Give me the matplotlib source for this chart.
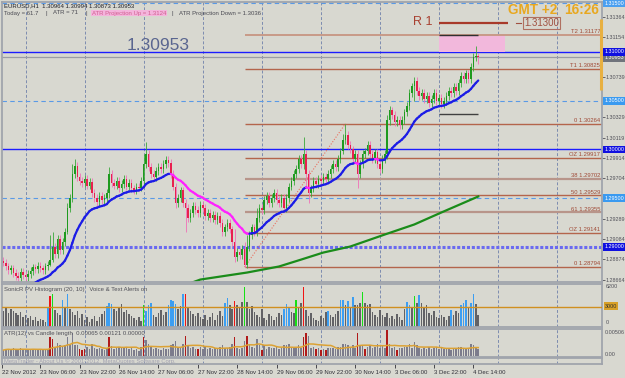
import numpy as np
import matplotlib
matplotlib.use("Agg")
import matplotlib.pyplot as plt
from matplotlib.collections import LineCollection
from matplotlib.patches import Rectangle
import matplotlib.transforms as mtrans

# ---------------- data ----------------
header_line = "EURUSD,H1  1.30964 1.30994 1.30873 1.30953"
info_parts = ["Today = 61.7", "|", "ATR = 71", "|", "ATR Projection Up = 1.3124", "|",
              "ATR Projection Down = 1.3036"]
bid_text = "1.30953"
first_open = 1.2886
closes = [
    1.2884, 1.2880, 1.2876, 1.2878, 1.2873, 1.2870, 1.2868, 1.2874, 1.2871, 1.2869,
    1.2872, 1.2875, 1.2879, 1.2877, 1.2881, 1.2878, 1.2876, 1.2880, 1.2882, 1.2887,
    1.2900, 1.2893, 1.2908, 1.2897, 1.2905, 1.2915, 1.2940, 1.2950, 1.2975, 1.2983,
    1.2972, 1.2968, 1.2966, 1.2970, 1.2963, 1.2967, 1.2955, 1.2950, 1.2946, 1.2952,
    1.2948, 1.2950, 1.2955, 1.2975, 1.2966, 1.2963, 1.2968, 1.2960, 1.2965, 1.2970,
    1.2962, 1.2966, 1.2960, 1.2958, 1.2962, 1.2961, 1.2968, 1.2985, 1.2995, 1.2982,
    1.2975, 1.2972, 1.2978, 1.2982, 1.2980, 1.2985, 1.2989, 1.2986, 1.2975, 1.2962,
    1.2945, 1.2950, 1.2958, 1.2945, 1.2940, 1.2930, 1.2935, 1.2942, 1.2938, 1.2935,
    1.2943, 1.2940, 1.2932, 1.2935, 1.2930, 1.2933, 1.2928, 1.2932, 1.2925, 1.2915,
    1.2920, 1.2925, 1.2918, 1.2905, 1.2890, 1.2895, 1.2892, 1.2898, 1.2882, 1.2900,
    1.2912, 1.2920, 1.2915, 1.2930, 1.2940, 1.2938, 1.2948, 1.2952, 1.2945, 1.2950,
    1.2955, 1.2948, 1.2945, 1.2950, 1.2940, 1.2950, 1.2962, 1.2968, 1.2975, 1.2980,
    1.2990, 1.2985, 1.2995, 1.2975, 1.2955, 1.2960, 1.2968, 1.2965, 1.2970, 1.2968,
    1.2972, 1.2970, 1.2975, 1.2980, 1.2985, 1.2982, 1.2990, 1.2998, 1.3010, 1.3015,
    1.3005, 1.3000, 1.2990, 1.2995, 1.2975, 1.2985, 1.2995, 1.2998, 1.3005, 1.2995,
    1.2990, 1.2997, 1.2985, 1.2980, 1.2990, 1.2995, 1.3030, 1.3040, 1.3035, 1.3028,
    1.3030, 1.3025, 1.3030, 1.3038, 1.3045, 1.3058, 1.3065, 1.3070, 1.3060, 1.3055,
    1.3058, 1.3052, 1.3055, 1.3048, 1.3052, 1.3058, 1.3050, 1.3053, 1.3047, 1.3050,
    1.3055, 1.3060, 1.3058, 1.3064, 1.3060, 1.3068, 1.3075, 1.3072, 1.3078, 1.3072,
    1.3085, 1.3095, 1.30964, 1.30953,
]
high_override = {19: 1.2912, 20: 1.2915, 26: 1.2945, 28: 1.2985, 29: 1.2990, 43: 1.2982,
                 57: 1.2995, 58: 1.3008, 94: 1.2918, 98: 1.2905, 99: 1.2912, 103: 1.2940,
                 122: 1.3013, 138: 1.3016, 139: 1.30264, 156: 1.3035, 157: 1.3045,
                 166: 1.3068, 167: 1.3074, 192: 1.31057, 193: 1.30994}
low_override = {19: 1.2880, 20: 1.2885, 26: 1.2913, 43: 1.2950, 57: 1.2962, 70: 1.2940,
                74: 1.2915, 94: 1.2885, 98: 1.28794, 122: 1.2980, 123: 1.2960, 124: 1.2945,
                138: 1.2995, 144: 1.2960, 156: 1.2990, 157: 1.3025, 167: 1.3050,
                193: 1.30873}
wick_size = 0.0004

ma_period = 20
ma_seed = 1.2830

sma_idx = [75, 80, 99, 112, 121, 130, 141, 155, 167, 178, 193]
sma_val = [1.2862, 1.28666, 1.28738, 1.28800, 1.28871, 1.28943, 1.29005, 1.29128,
           1.29231, 1.29354, 1.29518]

fib_names = ["T2", "T1", "0", "OZ", "38", "50", "61", "OZ", "0"]
fib_values = [1.31177, 1.30825, 1.30264, 1.29917, 1.29702, 1.29529, 1.29355, 1.29141, 1.28794]
swing_low_idx, swing_high_idx = 98, 139

round_levels = [1.31, 1.30, 1.29]
half_levels = [1.315, 1.305, 1.295]
bid = 1.30953
r1_level = 1.3130
day_start_idx = 177
proj_end_idx = 204
proj_box = (1.3100, 1.31177)
atr_down_level = 1.3036
today_range = (1.3061, 1.31338)

price_ticks = [1.31364, 1.31154, 1.30739, 1.30329, 1.30119, 1.29914, 1.29704,
               1.29289, 1.29084, 1.28874, 1.28664]

volumes = [
    2400, 2800, 2100, 2600, 2300, 2000, 1700, 2200, 1500, 1800,
    1300, 1600, 1100, 1400, 900, 1200, 1000, 800, 2800, 4500,
    4800, 2500, 2000, 1700, 3900, 3000, 4800, 2600, 2200, 1800,
    2400, 1300, 1900, 1100, 1500, 800, 1200, 1600, 900, 1400,
    1900, 2300, 3100, 3600, 3400, 2700, 2400, 2800, 3400, 2200,
    2500, 1900, 1600, 1300, 1100, 1500, 900, 3200, 2300, 3300,
    3500, 1800, 1400, 2100, 2500, 1700, 2200, 3300, 3900, 3800,
    3400, 2700, 3100, 4900, 4900, 2800, 2300, 1900, 1600, 2100,
    1500, 1200, 1800, 1000, 1400, 2000, 1100, 1700, 2400, 1600,
    3600, 4300, 3200, 2600, 3800, 3200, 2800, 3700, 5900, 3700,
    2600, 3100, 2200, 1800, 1500, 2600, 1300, 1100, 1900, 1600,
    1000, 1400, 2100, 1700, 2700, 3400, 2900, 2200, 2000, 3900,
    2800, 3600, 5900, 2500, 1600, 2000, 1300, 1100, 900, 1600,
    1300, 2200, 2300, 1700, 1400, 1900, 2300, 3900, 3900, 3300,
    3800, 3000, 4400, 3300, 3200, 3500, 5100, 3600, 3300, 3400,
    2200, 1800, 1500, 2500, 1700, 1400, 2000, 1300, 1600, 1200,
    1900, 1500, 1100, 2600, 3700, 3200, 2800, 4600, 3600, 4700,
    3500, 3000, 3300, 2000, 1700, 2300, 1500, 1300, 1800, 1400,
    1100, 1600, 2500, 1700, 2300, 2000, 3300, 3600, 4000, 2800,
    3500, 4800, 3400, 1800,
]
vol_classes = ("gggggggggg" "ggggggggbr" "Ggggbgbggg" "gggggggggg" "ggbbbggggg"
               "gggggggGbb" "bggggggbbb" "bggbrggggg" "gggggggggg" "bbggrgggGg"
               "gggggggggg" "ggggbbbggG" "ggrggggggg" "ggbggggbbg" "bgbgggGggg"
               "gggggggggg" "ggggbbgGgb" "gggggggggg" "ggbgggbbbg" "bbgg")
vol_level = 3000
vol_max = 6200

date_labels = ["22 Nov 2012", "23 Nov 06:00", "23 Nov 22:00", "26 Nov 14:00", "27 Nov 06:00",
               "27 Nov 22:00", "28 Nov 14:00", "29 Nov 06:00", "29 Nov 22:00", "30 Nov 14:00",
               "3 Dec 06:00", "3 Dec 22:00", "4 Dec 14:00"]
date_idx = [-0.6, 15, 31, 47, 63, 79, 95, 111, 127, 143, 159, 175, 191]
grid_idx = [9, 33, 57, 81, 105, 129, 153, 177, 201, 225]

# ---------------- derived ----------------
n = min(len(closes), len(volumes), len(vol_classes))
c = np.array(closes[:n])
o = np.r_[first_open, c[:-1]]
hi = np.maximum(o, c) + wick_size
lo = np.minimum(o, c) - wick_size
for k, v in high_override.items():
    if k < n:
        hi[k] = max(v, max(o[k], c[k]))
for k, v in low_override.items():
    if k < n:
        lo[k] = min(v, min(o[k], c[k]))
x = np.arange(n)

alpha = 2.0 / (ma_period + 1)
ma = np.empty(n)
prev = ma_seed
for i in range(n):
    prev = prev + alpha * (c[i] - prev)
    ma[i] = prev

lengths = hi - lo
atr = np.array([lengths[max(0, i - 11):i + 1].mean() for i in range(n)])

# ---------------- figure ----------------
W, H = 625, 378
BG = '#d8d8d0'
plt.rcParams['font.family'] = ['Liberation Sans', 'DejaVu Sans']
fig = plt.figure(figsize=(6.25, 3.78), dpi=100)
fig.patch.set_facecolor(BG)
XMIN, XMAX = -0.6, 243.3


def px_axes(x0, y0, x1, y1):
    a = fig.add_axes([x0 / W, 1 - y1 / H, (x1 - x0) / W, (y1 - y0) / H])
    a.set_facecolor(BG)
    for s in a.spines.values():
        s.set_color('#a0a4ac')
        s.set_linewidth(1.3)
    a.set_xlim(XMIN, XMAX)
    a.tick_params(axis='x', bottom=False, labelbottom=False)
    a.tick_params(axis='y', left=False, labelleft=False)
    return a


def ftext(xp, yp, s, **kw):
    return fig.text(xp / W, 1 - yp / H, s, **kw)


ax = px_axes(2, 2, 602, 282)
axv = px_axes(2, 284, 602, 327)
axa = px_axes(2, 329, 602, 357)
axm = px_axes(2, 358, 602, 364)

for a in (ax, axv, axa, axm):
    for g in grid_idx:
        a.axvline(g, color='#7d8cb0', lw=0.7, ls=(0, (3, 2)), zorder=0.5)

# ---- main price panel ----
ax.set_ylim(1.28641, 1.315128)
for lv in half_levels:
    ax.axhline(lv, color='#5a9ae6', lw=0.8, ls=(0, (4, 3)), zorder=0.6)
ax.axhline(round_levels[0], color='#1c1cff', lw=1.0, zorder=1)
ax.axhline(round_levels[1], color='#1c1cff', lw=1.0, zorder=1)
ax.axhline(round_levels[2], color='#6a6af0', lw=2.2, ls=(0, (1, 0.6)), zorder=1)
ax.axhline(bid, color='#9a9ca4', lw=0.9, zorder=1)

# fib lines
for name, v in zip(fib_names, fib_values):
    if name in ("38", "61"):
        col, lw = '#b8958a', 1.6
    elif name == "T2":
        col, lw = '#c89a88', 1.4
    else:
        col, lw = '#b4654c', 1.0
    ax.hlines(v, swing_low_idx, XMAX, color=col, lw=lw, zorder=1.2)
    ax.text(242.6, v + 0.00009, f"{name} {v:.5f}", ha='right', va='bottom',
            fontsize=4.2, color='#a04a36', zorder=3)
ax.plot([swing_low_idx, swing_high_idx], [fib_values[-1], fib_values[2]],
        color='#e87060', lw=0.8, ls=(0, (1, 1.5)), zorder=1.3)

# projection box, R1, ATR lines
ax.add_patch(Rectangle((day_start_idx, proj_box[0]), proj_end_idx - day_start_idx,
                       proj_box[1] - proj_box[0], facecolor='#f2b8dc', edgecolor='none',
                       zorder=1.1))
ax.hlines(proj_box[1], day_start_idx, n - 1, color='#303030', lw=1.0, zorder=1.5)
ax.hlines(atr_down_level, day_start_idx, n - 1, color='#404040', lw=1.0, zorder=1.5)
ax.hlines(r1_level, day_start_idx, proj_end_idx + 1, color='#a83a2a', lw=1.6, zorder=1.5)

# green long MA
ax.plot(sma_idx, sma_val, color='#1a8c1a', lw=1.6, zorder=2)

# candles
bull = c >= o
wick_cols = np.where(bull, '#3aa83a', '#f070b8')
body_cols = np.where(bull, '#1e9a1e', '#e8204e')
ax.vlines(x, lo, hi, colors=wick_cols, lw=0.6, zorder=2.5)
body_h = np.maximum(np.abs(c - o), 0.00006)
ax.bar(x, body_h, bottom=np.minimum(o, c), width=0.62, color=body_cols, lw=0, zorder=2.6)

# MA coloured by slope
segs = [[(i - 1, ma[i - 1]), (i, ma[i])] for i in range(1, n)]
seg_cols = ['#ff22ff' if ma[i] < ma[i - 1] else '#1c1ce6' for i in range(1, n)]
ax.add_collection(LineCollection(segs, colors=seg_cols, linewidths=1.6, zorder=3,
                                 capstyle='round'))

# right price scale
ax.yaxis.tick_right()
ax.set_yticks(price_ticks)
ax.set_yticklabels([f"{v:.5f}" for v in price_ticks])
ax.tick_params(axis='y', right=True, labelright=True, length=2, width=0.6, pad=0.8,
               labelsize=3.9, colors='#505058')
trans = mtrans.blended_transform_factory(ax.transAxes, ax.transData)
boxes = [(half_levels[0], '#4a9ff0'), (round_levels[0], '#1010e0'), (bid, '#70747c'),
         (half_levels[1], '#3a9af0'), (round_levels[1], '#1010e0'),
         (half_levels[2], '#3a9af0'), (round_levels[2], '#1010e0')]
for lv, col in boxes:
    yy = lv - 0.00012 if lv == bid else lv
    ax.text(1.004, yy, f"{lv:.5f}", transform=trans, ha='left', va='center', fontsize=3.9,
            color='white', clip_on=False, zorder=5 if lv != bid else 4,
            bbox=dict(boxstyle='square,pad=0.25', fc=col, ec='none'))
ax.plot([0.9975, 0.9975], list(today_range), transform=trans, color='#e8b040', lw=2.2,
        clip_on=False, zorder=4, solid_capstyle='butt')

# ---- volume histogram ----
vcol = {'g': '#626266', 'b': '#3c9ef2', 'r': '#f01414', 'G': '#16e016'}
axv.set_ylim(0, vol_max * 1.02)
axv.bar(x, volumes[:n], width=0.62, color=[vcol[k] for k in vol_classes[:n]], lw=0, zorder=2)
axv.axhline(vol_level, color='#d09020', lw=1.0, zorder=3)

# ---- ATR panel ----
axa.set_ylim(-0.00024 * lengths.max() / 0.00506, lengths.max() * 1.04)
acols = ['#b01a1a' if (lengths[i] > 1.8 * atr[i] or lengths[i] < 0.62 * atr[i]) else '#7c7c8c'
         for i in range(n)]
axa.bar(x, lengths, width=0.62, color=acols, lw=0, zorder=2)
axa.plot(x, atr, color='#dca234', lw=1.1, zorder=3)

# ---- bottom thin panel + dates ----
axm.set_ylim(0, 1)
axm.text(0.004, 0.5, "MetaTrader - About Us \u00a9 2001-2012, MetaQuotes Software Corp.",
         transform=axm.transAxes, fontsize=4.2, color='#a0a0b0', va='center')
axm.set_xticks(date_idx)
axm.set_xticklabels(date_labels)
axm.tick_params(axis='x', bottom=True, labelbottom=True, length=3, width=0.6, pad=1.2,
                labelsize=4.3, colors='#303038')
for t in axm.get_xticklabels():
    t.set_ha('left')

# ---- texts ----
ftext(4, 6, header_line, fontsize=4.3, color='#202028', va='center')
info_x = [4, 46, 53, 86, 92, 172, 179]
for xp, s in zip(info_x, info_parts):
    kw = dict(fontsize=4.3, color='#4a4a52', va='center')
    if s.startswith("ATR Projection Up"):
        kw.update(color='#d06090', bbox=dict(boxstyle='square,pad=0.15', fc='#f4b4dc', ec='none'))
    ftext(xp, 13, s, **kw)
ftext(158, 46, bid_text, fontsize=12.5, color='#5a6690', ha='center', va='center')
ftext(508, 10, "GMT +2", fontsize=9.8, color='#e8a820', fontweight='bold', va='center')
ftext(564, 10, "16:26", fontsize=9.8, color='#e8a820', fontweight='bold', va='center')
ftext(413, 22, "R 1", fontsize=9, color='#a84030', va='center')
fig.add_artist(plt.Line2D([516 / W, 521 / W], [1 - 23 / H, 1 - 23 / H], color='#a05040', lw=0.8))
ftext(524, 23, f"{r1_level:.5f}", fontsize=7, color='#a05040', va='center',
      bbox=dict(boxstyle='square,pad=0.15', fc='none', ec='#b07060', lw=0.8))
ftext(4, 290, "SonicR PV Histogram (20, 10)   Voice & Text Alerts on", fontsize=4.3,
      color='#505058', va='center')
ftext(606, 287, f"{vol_max}", fontsize=3.9, color='#505058', va='center')
ftext(605, 306, f"{vol_level}", fontsize=3.9, color='#303030', va='center',
      bbox=dict(boxstyle='square,pad=0.2', fc='#d8a028', ec='none'))
ftext(606, 323, "0", fontsize=3.9, color='#505058', va='center')
ftext(4, 333, "ATR(12) vs Candle length  0.00065 0.00121 0.00000", fontsize=4.3,
      color='#505058', va='center')
ftext(605, 332, "0.00506", fontsize=3.9, color='#505058', va='center')
ftext(605, 354, "0.00", fontsize=3.9, color='#505058', va='center')

fig.savefig("out.png", dpi=100, facecolor=BG)
